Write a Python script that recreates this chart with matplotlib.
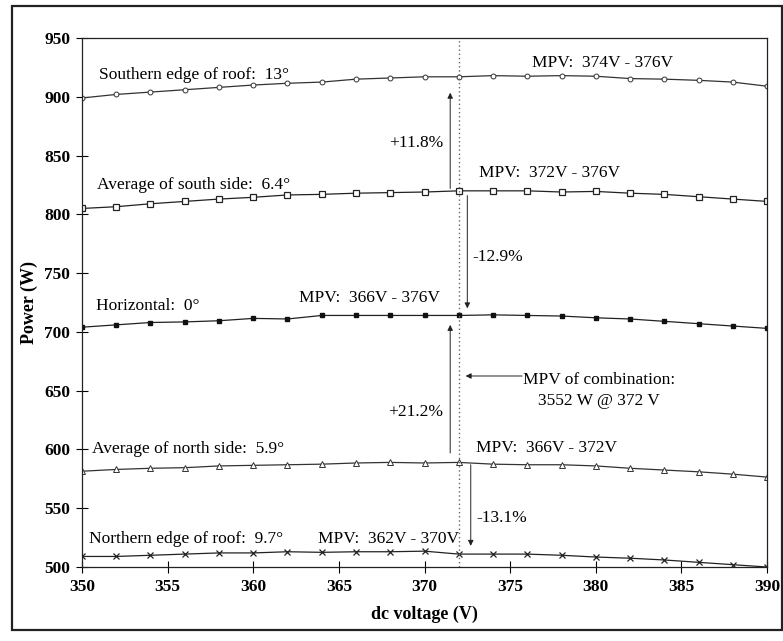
import numpy as np
import matplotlib
matplotlib.use("Agg")
import matplotlib.pyplot as plt
from matplotlib.patches import Rectangle

plt.rcParams['font.family'] = ['Liberation Serif', 'DejaVu Serif']

voltage = [350, 352, 354, 356, 358, 360, 362, 364, 366, 368, 370,
           372, 374, 376, 378, 380, 382, 384, 386, 388, 390]

southern_edge = [899, 902, 904, 906, 908, 910, 911.5, 912.5, 915, 916, 917,
                 917, 918, 917.5, 918, 917.5, 915.5, 915, 914, 912.5, 909]
south_avg = [805, 806.5, 809, 811, 813, 814.5, 816.5, 817, 818, 818.5, 819,
             820, 820, 820, 819, 819.5, 818, 817, 815, 813, 811]
horizontal = [704, 706, 708, 708.5, 709.5, 711.5, 711, 714, 714, 714, 714,
              714, 714.5, 714, 713.5, 712, 711, 709, 707, 705, 703]
north_avg = [581.5, 583, 584, 584.5, 586, 586.5, 587, 587.5, 588.5, 589, 588.5,
             589, 587.5, 587, 587, 586, 584, 582.5, 581, 579, 576.5]
northern_edge = [509, 509, 510, 511, 512, 512, 513, 512.5, 513, 513, 513.5,
                 511, 511, 511, 510, 508.5, 507.5, 506, 504, 502, 500]

series_labels = ["Southern edge of roof:  13°", "Average of south side:  6.4°",
                 "Horizontal:  0°", "Average of north side:  5.9°",
                 "Northern edge of roof:  9.7°"]
mpv_labels = ["MPV:  374V - 376V", "MPV:  372V - 376V", "MPV:  366V - 376V",
              "MPV:  366V - 372V", "MPV:  362V - 370V"]
xticks = [350, 355, 360, 365, 370, 375, 380, 385, 390]
yticks = [500, 550, 600, 650, 700, 750, 800, 850, 900, 950]

fig = plt.figure(figsize=(7.83, 6.41), dpi=100)
ax = fig.add_axes([0.1047, 0.1154, 0.8749, 0.8253])

lw = 0.9
ax.plot(voltage, southern_edge, color='#333333', lw=lw, marker='o', ms=3.5,
        mfc='white', mec='#333333', mew=0.7)
ax.plot(voltage, south_avg, color='#222222', lw=lw, marker='s', ms=5,
        mfc='white', mec='#222222', mew=0.9)
ax.plot(voltage, horizontal, color='#222222', lw=lw, marker='s', ms=3.5,
        mfc='#111111', mec='#111111')
ax.plot(voltage, north_avg, color='#333333', lw=lw, marker='^', ms=4,
        mfc='white', mec='#333333', mew=0.7)
ax.plot(voltage, northern_edge, color='#222222', lw=lw, marker='x', ms=4,
        mec='#222222', mew=0.9)

ax.set_xlim(350, 390)
ax.set_ylim(500, 950)
ax.set_xticks(xticks)
ax.set_yticks(yticks)
ax.tick_params(direction='inout', length=9, width=0.8, labelsize=12.5, pad=4)
for lab in ax.get_xticklabels() + ax.get_yticklabels():
    lab.set_fontweight('bold')
for s in ax.spines.values():
    s.set_linewidth(0.9)
    s.set_color('#222222')

ax.set_xlabel("dc voltage (V)", fontsize=13, fontweight='bold', labelpad=8)
ax.set_ylabel("Power (W)", fontsize=13, fontweight='bold', labelpad=4)

# dotted line at combined MPV
ax.axvline(372, ymin=0.0, ymax=1.0, color='#666666', lw=1.0, ls=(0, (1, 2)))

fs = 12.5
# series labels
ax.text(351.0, 918.5, series_labels[0], fontsize=fs, va='center', ha='left')
ax.text(376.3, 928.5, mpv_labels[0], fontsize=fs, va='center', ha='left')
ax.text(350.9, 825, series_labels[1], fontsize=fs, va='center', ha='left')
ax.text(373.2, 835, mpv_labels[1], fontsize=fs, va='center', ha='left')
ax.text(350.8, 722, series_labels[2], fontsize=fs, va='center', ha='left')
ax.text(362.7, 729, mpv_labels[2], fontsize=fs, va='center', ha='left')
ax.text(350.6, 600, series_labels[3], fontsize=fs, va='center', ha='left')
ax.text(373.0, 601, mpv_labels[3], fontsize=fs, va='center', ha='left')
ax.text(350.4, 523.5, series_labels[4], fontsize=fs, va='center', ha='left')
ax.text(363.8, 523.5, mpv_labels[4], fontsize=fs, va='center', ha='left')

# percent arrows
ap = dict(arrowstyle='-|>', color='#222222', lw=0.7, mutation_scale=8,
          shrinkA=0, shrinkB=0)
ax.annotate('', xy=(371.5, 903.5), xytext=(371.5, 822), arrowprops=ap)
ax.text(371.1, 861, '+11.8%', fontsize=fs, ha='right', va='center')
ax.annotate('', xy=(372.5, 720), xytext=(372.5, 816), arrowprops=ap)
ax.text(372.8, 764, '-12.9%', fontsize=fs, ha='left', va='center')
ax.annotate('', xy=(371.5, 706), xytext=(371.5, 597), arrowprops=ap)
ax.text(371.1, 632, '+21.2%', fontsize=fs, ha='right', va='center')
ax.annotate('', xy=(372.7, 518), xytext=(372.7, 587), arrowprops=ap)
ax.text(373.05, 542, '-13.1%', fontsize=fs, ha='left', va='center')

# combination annotation
ax.annotate('', xy=(372.4, 662.5), xytext=(375.7, 662.5), arrowprops=ap)
ax.text(380.2, 659, 'MPV of combination:', fontsize=fs, ha='center', va='center')
ax.text(380.2, 641, '3552 W @ 372 V', fontsize=fs, ha='center', va='center')

# outer frame
fig.patches.append(Rectangle((12 / 783, 1 - 630 / 641), (782 - 12) / 783,
                             (630 - 6) / 641, transform=fig.transFigure,
                             fill=False, lw=1.6, ec='#222222'))

fig.savefig('out.png', dpi=100)
